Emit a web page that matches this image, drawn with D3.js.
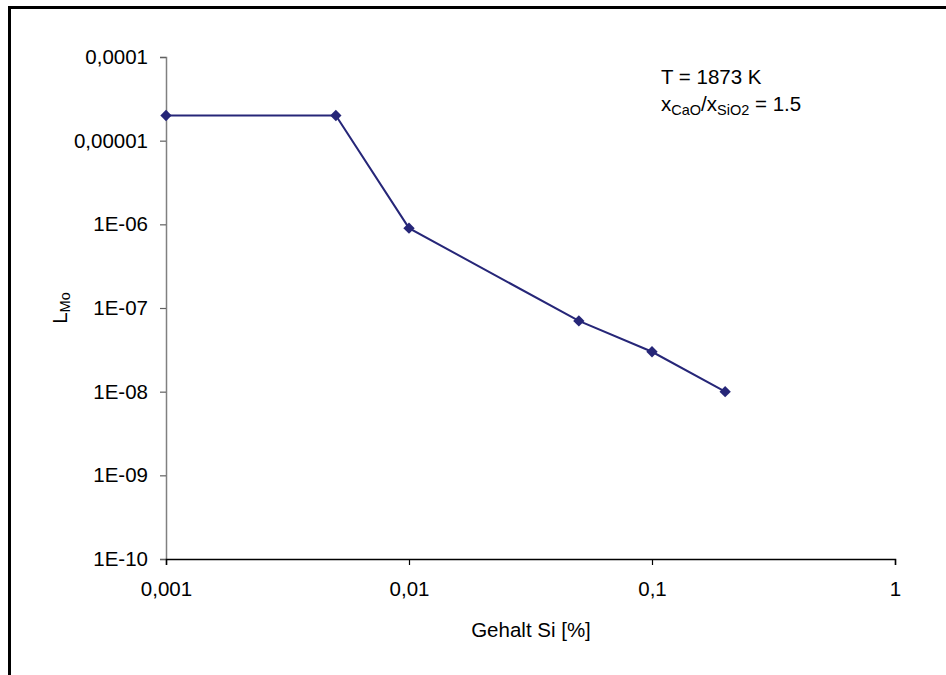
<!DOCTYPE html>
<html>
<head>
<meta charset="utf-8">
<script src="https://cdn.jsdelivr.net/npm/d3@7"></script>
<style>
  html, body { margin: 0; padding: 0; background: #fff; }
  svg { display: block; font-family: "Liberation Sans", Arial, sans-serif; }
</style>
</head>
<body>
<svg id="chart" width="946" height="675"></svg>
<script>
// Silicon content [%] and Mo distribution ratio L_Mo
const siContent = [0.001, 0.005, 0.01, 0.05, 0.1, 0.2];
const lMo = [2e-5, 2e-5, 9e-7, 7e-8, 3e-8, 1e-8];
const xTicks = [0.001, 0.01, 0.1, 1];
const xTickLabels = ["0,001", "0,01", "0,1", "1"];
const yTicks = [1e-10, 1e-9, 1e-8, 1e-7, 1e-6, 1e-5, 1e-4];
const yTickLabels = ["1E-10", "1E-09", "1E-08", "1E-07", "1E-06", "0,00001", "0,0001"];

const svg = d3.select("#chart");
const lineColor = "#262678";
const fontSize = 20.5;
const subSize = 14.5;

// outer frame (left and top edges)
svg.append("path")
  .attr("d", "M9.5,675 V7.5 H946")
  .attr("fill", "none").attr("stroke", "#000").attr("stroke-width", 3);

const x = d3.scaleLog().domain([0.001, 1]).range([166, 895]);
const y = d3.scaleLog().domain([1e-10, 1e-4]).range([559, 57]);

// y axis
const yAxis = svg.append("g").attr("transform", "translate(166,0)")
  .call(d3.axisLeft(y).tickValues(yTicks)
    .tickFormat((d, i) => yTickLabels[i]).tickSizeOuter(0).tickSize(6).tickPadding(12));
yAxis.select(".domain").attr("stroke", "#808080").attr("stroke-width", 1.5);
yAxis.selectAll(".tick line").attr("stroke", "#606060").attr("stroke-width", 1.2);
yAxis.selectAll(".tick text").attr("font-size", fontSize).attr("fill", "#000")
  .attr("font-family", "Liberation Sans, Arial, sans-serif");

// x axis
const xAxis = svg.append("g").attr("transform", "translate(0,559)")
  .call(d3.axisBottom(x).tickValues(xTicks)
    .tickFormat((d, i) => xTickLabels[i]).tickSizeOuter(0).tickSize(6).tickPadding(16));
xAxis.select(".domain").attr("stroke", "#000").attr("stroke-width", 1.5);
xAxis.selectAll(".tick line").attr("stroke", "#000").attr("stroke-width", 1.2);
xAxis.selectAll(".tick text").attr("font-size", fontSize).attr("fill", "#000")
  .attr("font-family", "Liberation Sans, Arial, sans-serif");

// data line
const pts = siContent.map((s, i) => [s, lMo[i]]);
svg.append("path")
  .datum(pts)
  .attr("fill", "none")
  .attr("stroke", lineColor)
  .attr("stroke-width", 2)
  .attr("d", d3.line().x(d => x(d[0])).y(d => y(d[1])));

// diamond markers
svg.selectAll(".marker").data(pts).enter().append("path")
  .attr("class", "marker")
  .attr("transform", d => `translate(${x(d[0])},${y(d[1])}) rotate(45)`)
  .attr("d", "M-4,-4 H4 V4 H-4 Z")
  .attr("fill", lineColor);

// axis titles
svg.append("text")
  .attr("x", 531).attr("y", 637)
  .attr("text-anchor", "middle").attr("font-size", fontSize)
  .text("Gehalt Si [%]");

const yt = svg.append("text")
  .attr("transform", "translate(67,308) rotate(-90)")
  .attr("text-anchor", "middle").attr("font-size", fontSize);
yt.append("tspan").text("L");
yt.append("tspan").attr("font-size", subSize).attr("dy", 3).text("Mo");

// annotation
svg.append("text").attr("x", 661).attr("y", 84).attr("font-size", fontSize).text("T = 1873 K");
const ann = svg.append("text").attr("x", 661).attr("y", 111).attr("font-size", fontSize);
ann.append("tspan").text("x");
ann.append("tspan").attr("font-size", subSize).attr("dy", 4).text("CaO");
ann.append("tspan").attr("dy", -4).text("/x");
ann.append("tspan").attr("font-size", subSize).attr("dy", 4).text("SiO2");
ann.append("tspan").attr("dy", -4).text(" = 1.5");
</script>
</body>
</html>
